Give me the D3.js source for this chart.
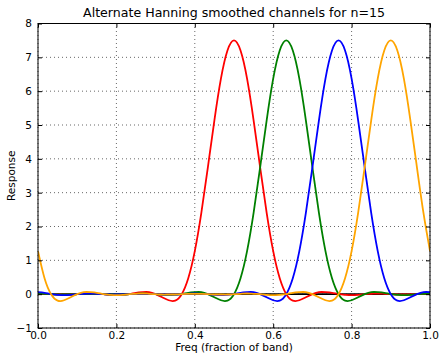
<!DOCTYPE html>
<html>
<head>
<meta charset="utf-8">
<script src="https://cdn.jsdelivr.net/npm/d3@7"></script>
<style>
  body { margin: 0; background: #fff; }
  text { font-family: "DejaVu Sans", sans-serif; fill: #000; }
</style>
</head>
<body>
<div id="chart"></div>
<script>
// frequency samples, 0..1 in steps of 1/60
const freq = d3.range(61).map(i => i / 60);

// responses (one per channel)
const red = [0.01,0.01,0,-0.01,-0.01,-0.01,0,0.01,0.02,0.01,0,-0.02,-0.03,-0.02,0,0.04,0.06,0.06,0,-0.09,-0.18,-0.19,0,0.47,1.27,2.40,3.75,5.14,6.37,7.20,7.50,
  7.20,6.37,5.14,3.75,2.40,1.27,0.47,0,-0.19,-0.18,-0.09,0,0.06,0.06,0.04,0,-0.02,-0.03,-0.02,0,0.01,0.02,0.01,0,-0.01,-0.01,-0.01,0,0.01,0.01];
const green = [0.02,0.01,0,-0.01,-0.01,-0.01,0,0.01,0.01,0.01,0,-0.01,-0.01,-0.01,0,0.01,0.02,0.01,0,-0.02,-0.03,-0.02,0,0.04,0.06,0.06,0,-0.09,-0.18,-0.19,0,
  0.47,1.27,2.40,3.75,5.14,6.37,7.20,7.50,7.20,6.37,5.14,3.75,2.40,1.27,0.47,0,-0.19,-0.18,-0.09,0,0.06,0.06,0.04,0,-0.02,-0.03,-0.02,0,0.01,0.02];
const blue = [0.06,0.04,0,-0.02,-0.03,-0.02,0,0.01,0.02,0.01,0,-0.01,-0.01,-0.01,0,0.01,0.01,0.01,0,-0.01,-0.01,-0.01,0,0.01,0.02,0.01,0,-0.02,-0.03,-0.02,0,
  0.04,0.06,0.06,0,-0.09,-0.18,-0.19,0,0.47,1.27,2.40,3.75,5.14,6.37,7.20,7.50,7.20,6.37,5.14,3.75,2.40,1.27,0.47,0,-0.19,-0.18,-0.09,0,0.06,0.06];
const orange = [1.27,0.47,0,-0.19,-0.18,-0.09,0,0.06,0.06,0.04,0,-0.02,-0.03,-0.02,0,0.01,0.02,0.01,0,-0.01,-0.01,-0.01,0,0.01,0.01,0.01,0,-0.01,-0.01,-0.01,0,
  0.01,0.02,0.01,0,-0.02,-0.03,-0.02,0,0.04,0.06,0.06,0,-0.09,-0.18,-0.19,0,0.47,1.27,2.40,3.75,5.14,6.37,7.20,7.50,7.20,6.37,5.14,3.75,2.40,1.27];
const baseline = freq.map(() => 0);

const xTicks = [0.0, 0.2, 0.4, 0.6, 0.8, 1.0];
const yTicks = [-1, 0, 1, 2, 3, 4, 5, 6, 7, 8];

const series = [
  {name: 'sum', values: baseline, color: '#000000'},
  {name: 'ch1', values: red, color: '#ff0000'},
  {name: 'ch2', values: green, color: '#008000'},
  {name: 'ch3', values: blue, color: '#0000ff'},
  {name: 'ch4', values: orange, color: '#ffa500'}
];

const W = 439, H = 353;
const m = {left: 38, right: 9, top: 23.5, bottom: 25};

const svg = d3.select('#chart').append('svg')
  .attr('width', W).attr('height', H);

const x = d3.scaleLinear().domain([0, 1]).range([m.left, W - m.right]);
const y = d3.scaleLinear().domain([-1, 8]).range([H - m.bottom, m.top]);

svg.append('defs').append('clipPath').attr('id', 'clip')
  .append('rect')
  .attr('x', m.left).attr('y', m.top)
  .attr('width', x(1) - x(0)).attr('height', y(-1) - y(8));

// grid
const grid = svg.append('g');
grid.selectAll('.gx').data(xTicks).enter().append('line')
  .attr('x1', d => x(d)).attr('x2', d => x(d))
  .attr('y1', y(-1)).attr('y2', y(8))
  .attr('stroke', '#000').attr('stroke-width', 0.6)
  .attr('stroke-dasharray', '1,3');
grid.selectAll('.gy').data(yTicks).enter().append('line')
  .attr('y1', d => y(d)).attr('y2', d => y(d))
  .attr('x1', x(0)).attr('x2', x(1))
  .attr('stroke', '#000').attr('stroke-width', 0.6)
  .attr('stroke-dasharray', '1,3');

// curves
const line = d3.line()
  .x((d, i) => x(freq[i]))
  .y(d => y(d))
  .curve(d3.curveNatural);

svg.append('g').attr('clip-path', 'url(#clip)')
  .selectAll('path').data(series).enter().append('path')
  .attr('d', d => line(d.values))
  .attr('fill', 'none')
  .attr('stroke', d => d.color)
  .attr('stroke-width', 1.8);

// axes with inward ticks on all sides
const axB = d3.axisBottom(x).tickValues(xTicks).tickFormat(d3.format('.1f')).tickSizeInner(-4).tickSizeOuter(0).tickPadding(3.5);
const axT = d3.axisTop(x).tickValues(xTicks).tickFormat('').tickSizeInner(-4).tickSizeOuter(0);
const axL = d3.axisLeft(y).tickValues(yTicks).tickFormat(d => d < 0 ? '\u2212' + Math.abs(d) : d).tickSizeInner(-4).tickSizeOuter(0).tickPadding(6);
const axR = d3.axisRight(y).tickValues(yTicks).tickFormat('').tickSizeInner(-4).tickSizeOuter(0);

svg.append('g').attr('transform', `translate(0,${y(-1)})`).call(axB);
svg.append('g').attr('transform', `translate(0,${y(8)})`).call(axT);
svg.append('g').attr('transform', `translate(${x(0)},0)`).call(axL);
svg.append('g').attr('transform', `translate(${x(1)},0)`).call(axR);

svg.selectAll('.tick text').style('font-size', '10.5px').style('font-family', '"DejaVu Sans", sans-serif');
svg.selectAll('.domain').remove();

// frame
svg.append('rect')
  .attr('x', x(0)).attr('y', y(8))
  .attr('width', x(1) - x(0)).attr('height', y(-1) - y(8))
  .attr('fill', 'none').attr('stroke', '#000').attr('stroke-width', 1);

// titles
svg.append('text')
  .attr('x', (x(0) + x(1)) / 2).attr('y', 17)
  .attr('text-anchor', 'middle')
  .style('font-size', '12.6px')
  .text('Alternate Hanning smoothed channels for n=15');

svg.append('text')
  .attr('x', (x(0) + x(1)) / 2).attr('y', 350.5)
  .attr('text-anchor', 'middle')
  .style('font-size', '10.5px')
  .text('Freq (fraction of band)');

svg.append('text')
  .attr('transform', `translate(15,${(y(-1) + y(8)) / 2}) rotate(-90)`)
  .attr('text-anchor', 'middle')
  .style('font-size', '10.5px')
  .text('Response');
</script>
</body>
</html>
